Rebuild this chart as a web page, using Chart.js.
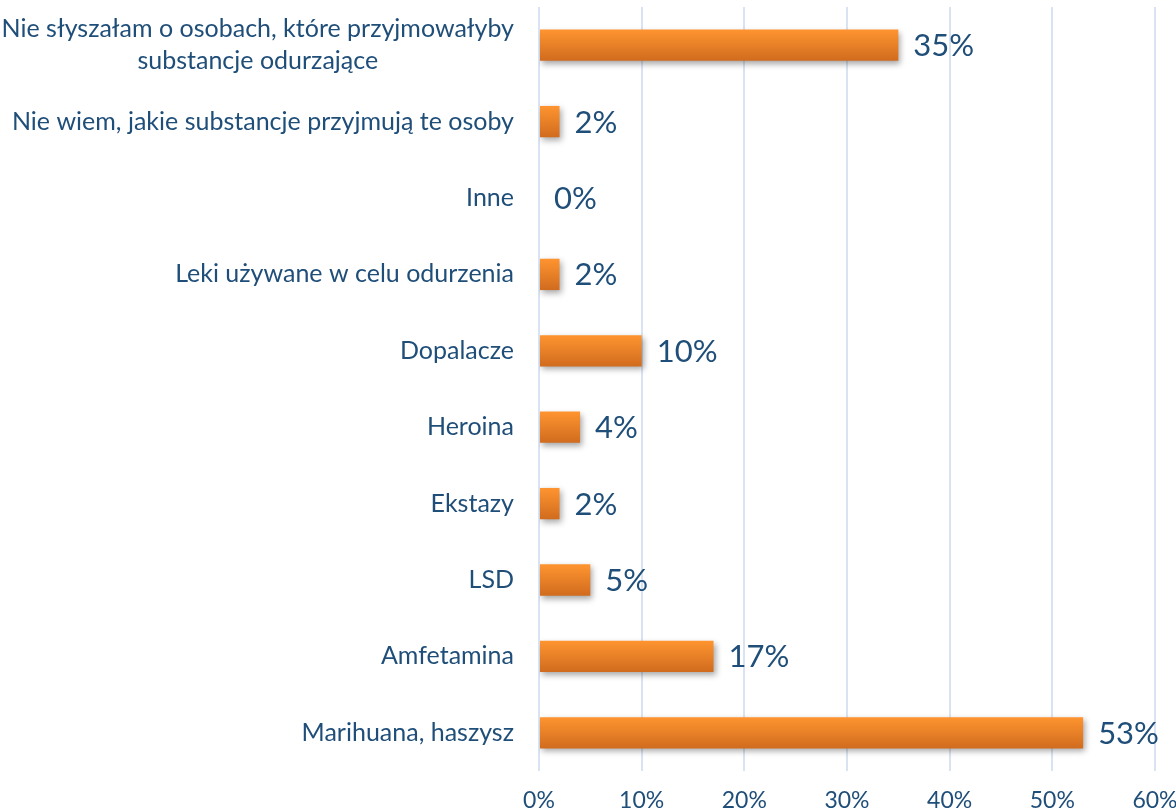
<!DOCTYPE html>
<html><head><meta charset="utf-8">
<script src="https://cdn.jsdelivr.net/npm/chart.js@4.4.0/dist/chart.umd.min.js"></script>
<style>html,body{margin:0;padding:0;background:#fff}#wrap{width:1176px;height:812px;position:relative}</style>
</head><body><div id="wrap"><canvas id="c"></canvas></div>
<script>
const categories = [
  ["Nie słyszałam o osobach, które przyjmowałyby", "substancje odurzające"],
  ["Nie wiem, jakie substancje przyjmują te osoby"],
  ["Inne"],
  ["Leki używane w celu odurzenia"],
  ["Dopalacze"],
  ["Heroina"],
  ["Ekstazy"],
  ["LSD"],
  ["Amfetamina"],
  ["Marihuana, haszysz"]
];
const values = [35, 2, 0, 2, 10, 4, 2, 5, 17, 53];
const xTicks = [0, 10, 20, 30, 40, 50, 60];

const TXT = '#1F4E79';
const FONT = 'Lato, "Open Sans", sans-serif';

const shadowPlugin = {
  id: 'shadow',
  beforeDatasetsDraw(chart) {
    const ctx = chart.ctx; ctx.save();
    ctx.shadowColor = 'rgba(0,0,0,0.35)';
    ctx.shadowBlur = 6; ctx.shadowOffsetX = 2; ctx.shadowOffsetY = 3;
  },
  afterDatasetsDraw(chart) { chart.ctx.restore(); }
};

const labelsPlugin = {
  id: 'labels',
  afterDatasetsDraw(chart) {
    const ctx = chart.ctx, ys = chart.scales.y, xs = chart.scales.x;
    ctx.save();
    ctx.fillStyle = TXT;
    ctx.font = '31px ' + FONT;
    ctx.textAlign = 'left'; ctx.textBaseline = 'middle';
    values.forEach((v, i) => {
      ctx.fillText(v + '%', xs.getPixelForValue(v) + 15, ys.getPixelForValue(i) + 1);
    });
    ctx.font = '25px ' + FONT;
    ctx.textAlign = 'center';
    const right = xs.left - 25, lh = 32;
    categories.forEach((lines, i) => {
      const w = ctx.measureText(lines[0]).width;
      const cx = right - w / 2;
      const cy = ys.getPixelForValue(i);
      const y0 = cy - (lines.length - 1) * lh / 2;
      lines.forEach((l, k) => ctx.fillText(l, cx, y0 + k * lh));
    });
    ctx.restore();
  }
};

new Chart(document.getElementById('c'), {
  type: 'bar',
  data: {
    labels: categories,
    datasets: [{
      data: values,
      backgroundColor(ctx) {
        const ch = ctx.chart;
        if (!ch.chartArea) return '#F58A2A';
        const y = ch.scales.y.getPixelForValue(ctx.dataIndex);
        const g = ch.ctx.createLinearGradient(0, y - 16, 0, y + 16);
        g.addColorStop(0, '#FF9530');
        g.addColorStop(1, '#D06B1E');
        return g;
      },
      borderWidth: 0,
      categoryPercentage: 1,
      barPercentage: 0.41
    }]
  },
  options: {
    indexAxis: 'y',
    responsive: true,
    maintainAspectRatio: false,
    animation: false,
    layout: { padding: { top: 7, right: 0, bottom: 0, left: 0 } },
    plugins: { legend: { display: false }, tooltip: { enabled: false } },
    scales: {
      x: {
        min: 0, max: 60,
        afterBuildTicks(s) { s.ticks = xTicks.map(v => ({ value: v })); },
        afterFit(s) { s.height = 41; s.paddingRight = 21; s.paddingLeft = 0; },
        grid: { color: '#D9E3F1', lineWidth: 2, drawTicks: false },
        border: { display: false },
        ticks: { color: TXT, font: { family: FONT, size: 23 }, padding: 16, callback: v => v + '%' }
      },
      y: {
        afterFit(s) { s.width = 539; },
        grid: { display: false },
        border: { display: false },
        ticks: { display: false }
      }
    }
  },
  plugins: [shadowPlugin, labelsPlugin]
});
</script></body></html>
